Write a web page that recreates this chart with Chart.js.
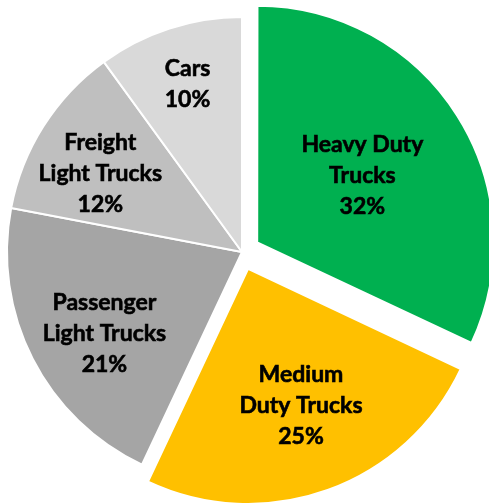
<!DOCTYPE html>
<html>
<head>
<meta charset="utf-8">
<script src="https://cdn.jsdelivr.net/npm/chart.js@4.4.1/dist/chart.umd.min.js"></script>
<style>
    html, body { margin: 0; padding: 0; background: #fff; }
    #wrap { width: 489px; height: 504px; }
</style>
</head>
<body>
<div id="wrap"><canvas id="pieChart"></canvas></div>
<script>
// -------------------------
// Chart Data
// -------------------------
const categories = ['Heavy Duty Trucks', 'Medium Duty Trucks', 'Passenger Light Trucks', 'Freight Light Trucks', 'Cars'];
const labelLines = [['Heavy Duty', 'Trucks'], ['Medium', 'Duty Trucks'], ['Passenger', 'Light Trucks'], ['Freight', 'Light Trucks'], ['Cars']];
const shares = [32, 25, 21, 12, 10];

// -------------------------
// Look
// -------------------------
const sliceColors = ['#00B050', '#FFC000', '#A5A5A5', '#BFBFBF', '#D9D9D9'];
// Chart.js v4 moves an arc by offset / 4, so 72 -> 18px
const sliceOffsets = [72, 72, 0, 0, 0];
// where each label sits: fraction of radius, nudge in degrees from slice middle
const labelPlace = [[0.53, 0], [0.625, -1.3], [0.68, -3.6], [0.69, -3.3], [0.75, 0]];

const sliceLabels = {
    id: 'sliceLabels',
    afterDatasetsDraw(chart) {
        const ctx = chart.ctx;
        const meta = chart.getDatasetMeta(0);
        ctx.save();
        ctx.font = 'bold 23px Lato';
        ctx.fillStyle = '#000';
        ctx.strokeStyle = '#000';
        ctx.lineWidth = 0.6;
        ctx.textAlign = 'center';
        ctx.textBaseline = 'middle';
        meta.data.forEach((arc, i) => {
            const p = arc.getProps(['x', 'y', 'startAngle', 'endAngle', 'outerRadius'], true);
            const midRaw = (p.startAngle + p.endAngle) / 2;
            const mid = midRaw + labelPlace[i][1] * Math.PI / 180;
            const r = p.outerRadius * labelPlace[i][0];
            const off = sliceOffsets[i] / 4;
            const cx = p.x + Math.cos(midRaw) * off + Math.cos(mid) * r;
            const cy = p.y + Math.sin(midRaw) * off + Math.sin(mid) * r;
            const lines = labelLines[i].concat([shares[i] + '%']);
            const lh = 31;
            lines.forEach((t, k) => {
                const y = cy + (k - (lines.length - 1) / 2) * lh;
                ctx.fillText(t, cx, y);
                ctx.strokeText(t, cx, y);
            });
        });
        ctx.restore();
    }
};

const ctx = document.getElementById('pieChart').getContext('2d');

new Chart(ctx, {
    type: 'pie',
    data: {
        labels: categories,
        datasets: [{
            data: shares,
            backgroundColor: sliceColors,
            borderColor: '#ffffff',
            borderWidth: 2,
            offset: sliceOffsets
        }]
    },
    options: {
        responsive: true,
        maintainAspectRatio: false,
        animation: false,
        radius: 235,
        layout: {
            padding: { left: 0, right: 5, top: 0, bottom: 0 }
        },
        plugins: {
            legend: { display: false },
            tooltip: { enabled: false }
        }
    },
    plugins: [sliceLabels]
});
</script>
</body>
</html>
